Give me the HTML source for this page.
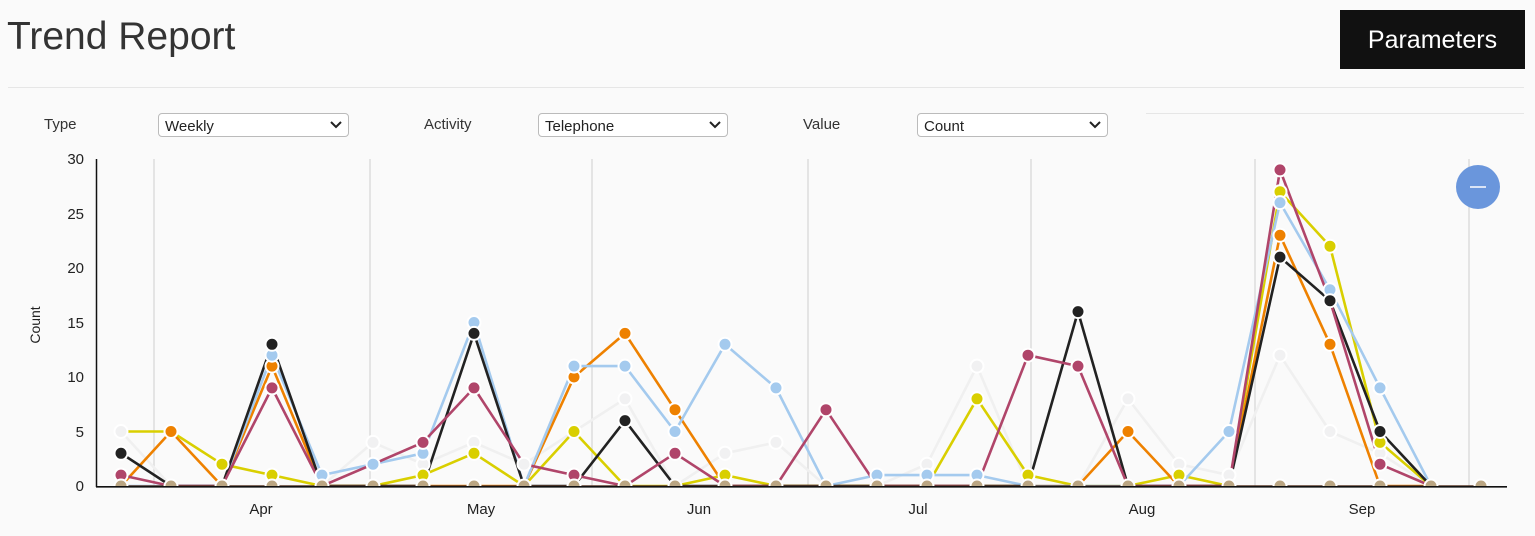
<!DOCTYPE html>
<html><head><meta charset="utf-8"><style>
html,body{margin:0;padding:0;background:#fafafa;width:1535px;height:536px;overflow:hidden;font-family:"Liberation Sans",sans-serif;color:#222}
.title{position:absolute;left:7px;top:15px;font-size:39px;color:#333;letter-spacing:0px}
.btn{position:absolute;left:1340px;top:10px;width:185px;height:59px;background:#111;color:#fff;font-size:25px;line-height:60px;text-align:center}
.hr1{position:absolute;left:8px;top:87px;width:1516px;height:1px;background:#e6e6e6}
.hr2{position:absolute;left:1146px;top:113px;width:378px;height:1px;background:#e6e6e6}
.lbl{position:absolute;top:116px;font-size:15px;color:#333}
.sel{position:absolute;top:113px;height:22px;border:1px solid #bbb;border-radius:4px;background:#fff;font-size:15px;line-height:25px;padding-left:6px;box-sizing:content-box;color:#222}
.sel svg{position:absolute;right:6px;top:7px}
</style></head><body>
<div class="title">Trend Report</div>
<div class="btn">Parameters</div>
<div class="hr1"></div>
<div class="hr2"></div>
<div class="lbl" style="left:44px">Type</div>
<div class="sel" style="left:158px;width:183px">Weekly<svg width="12" height="8"><path d="M1 1 L6 6 L11 1" fill="none" stroke="#222" stroke-width="2"/></svg></div>
<div class="lbl" style="left:424px">Activity</div>
<div class="sel" style="left:538px;width:182px">Telephone<svg width="12" height="8"><path d="M1 1 L6 6 L11 1" fill="none" stroke="#222" stroke-width="2"/></svg></div>
<div class="lbl" style="left:803px">Value</div>
<div class="sel" style="left:917px;width:183px">Count<svg width="12" height="8"><path d="M1 1 L6 6 L11 1" fill="none" stroke="#222" stroke-width="2"/></svg></div>

<svg width="1535" height="536" style="position:absolute;left:0;top:0" xmlns="http://www.w3.org/2000/svg">
<defs><clipPath id="c"><rect x="96" y="140" width="1420" height="346.5"/></clipPath></defs>
<g stroke="#dcdcdc" stroke-width="1.5">
<line x1="154" y1="159" x2="154" y2="486"/><line x1="370" y1="159" x2="370" y2="486"/><line x1="592" y1="159" x2="592" y2="486"/><line x1="808" y1="159" x2="808" y2="486"/><line x1="1031" y1="159" x2="1031" y2="486"/><line x1="1255" y1="159" x2="1255" y2="486"/><line x1="1469" y1="159" x2="1469" y2="486"/>
</g>
<g font-family="Liberation Sans, sans-serif" font-size="15" fill="#222" text-anchor="end">
<text x="84" y="164">30</text><text x="84" y="219">25</text><text x="84" y="273">20</text><text x="84" y="328">15</text><text x="84" y="382">10</text><text x="84" y="437">5</text><text x="84" y="491">0</text>
</g>
<text transform="translate(40,325) rotate(-90)" text-anchor="middle" font-family="Liberation Sans, sans-serif" font-size="14" fill="#222">Count</text>
<g font-family="Liberation Sans, sans-serif" font-size="15" fill="#222" text-anchor="middle">
<text x="261" y="514">Apr</text><text x="481" y="514">May</text><text x="699" y="514">Jun</text><text x="918" y="514">Jul</text><text x="1142" y="514">Aug</text><text x="1362" y="514">Sep</text>
</g>
<g clip-path="url(#c)" fill="none" stroke-width="2.6" stroke-linejoin="round">
<polyline stroke="#f0f0f0" points="121,431.5 171,486 222,486 272,486 322,486 373,442.4 423,464.2 474,442.4 524,464.2 574,431.5 625,398.8 675,486 725,453.3 776,442.4 826,486 877,486 927,464.2 977,366.1 1028,486 1078,486 1128,398.8 1179,464.2 1229,475.1 1280,355.2 1330,431.5 1380,453.3 1431,486"/>
<polyline stroke="#d9cf00" points="121,431.5 171,431.5 222,464.2 272,475.1 322,486 373,486 423,475.1 474,453.3 524,486 574,431.5 625,486 675,486 725,475.1 776,486 826,486 877,486 927,486 977,398.8 1028,475.1 1078,486 1128,486 1179,475.1 1229,486 1280,191.7 1330,246.2 1380,442.4 1431,486"/>
<polyline stroke="#ee8100" points="121,486 171,431.5 222,486 272,366.1 322,486 373,486 423,486 474,486 524,486 574,377 625,333.4 675,409.7 725,486 776,486 826,486 877,486 927,486 977,486 1028,486 1078,486 1128,431.5 1179,486 1229,486 1280,235.3 1330,344.3 1380,486 1431,486"/>
<polyline stroke="#a4caee" points="121,486 171,486 222,486 272,355.2 322,475.1 373,464.2 423,453.3 474,322.5 524,486 574,366.1 625,366.1 675,431.5 725,344.3 776,387.9 826,486 877,475.1 927,475.1 977,475.1 1028,486 1078,486 1128,486 1179,486 1229,431.5 1280,202.6 1330,289.8 1380,387.9 1431,486"/>
<polyline stroke="#222222" points="121,453.3 171,486 222,486 272,344.3 322,486 373,486 423,486 474,333.4 524,486 574,486 625,420.6 675,486 725,486 776,486 826,486 877,486 927,486 977,486 1028,486 1078,311.6 1128,486 1179,486 1229,486 1280,257.1 1330,300.7 1380,431.5 1431,486"/>
<polyline stroke="#b0456a" points="121,475.1 171,486 222,486 272,387.9 322,486 373,464.2 423,442.4 474,387.9 524,464.2 574,475.1 625,486 675,453.3 725,486 776,486 826,409.7 877,486 927,486 977,486 1028,355.2 1078,366.1 1128,486 1179,486 1229,486 1280,169.9 1330,300.7 1380,464.2 1431,486"/>
<polyline stroke="#5a3a2a" stroke-width="1.5" points="121,486 1481,486"/>
</g>
<g clip-path="url(#c)" stroke="#fff" stroke-width="2">
<g fill="#f1f1f2">
<circle cx="121" cy="431.5" r="6.5"/><circle cx="373" cy="442.4" r="6.5"/><circle cx="423" cy="464.2" r="6.5"/><circle cx="474" cy="442.4" r="6.5"/><circle cx="524" cy="464.2" r="6.5"/><circle cx="574" cy="431.5" r="6.5"/><circle cx="625" cy="398.8" r="6.5"/><circle cx="725" cy="453.3" r="6.5"/><circle cx="776" cy="442.4" r="6.5"/><circle cx="927" cy="464.2" r="6.5"/><circle cx="977" cy="366.1" r="6.5"/><circle cx="1128" cy="398.8" r="6.5"/><circle cx="1179" cy="464.2" r="6.5"/><circle cx="1229" cy="475.1" r="6.5"/><circle cx="1280" cy="355.2" r="6.5"/><circle cx="1330" cy="431.5" r="6.5"/><circle cx="1380" cy="453.3" r="6.5"/>
</g>
<g fill="#d9cf00">
<circle cx="171" cy="431.5" r="6.5"/><circle cx="222" cy="464.2" r="6.5"/><circle cx="272" cy="475.1" r="6.5"/><circle cx="423" cy="475.1" r="6.5"/><circle cx="474" cy="453.3" r="6.5"/><circle cx="574" cy="431.5" r="6.5"/><circle cx="725" cy="475.1" r="6.5"/><circle cx="977" cy="398.8" r="6.5"/><circle cx="1028" cy="475.1" r="6.5"/><circle cx="1179" cy="475.1" r="6.5"/><circle cx="1280" cy="191.7" r="6.5"/><circle cx="1330" cy="246.2" r="6.5"/><circle cx="1380" cy="442.4" r="6.5"/>
</g>
<g fill="#ee8100">
<circle cx="171" cy="431.5" r="6.5"/><circle cx="272" cy="366.1" r="6.5"/><circle cx="574" cy="377" r="6.5"/><circle cx="625" cy="333.4" r="6.5"/><circle cx="675" cy="409.7" r="6.5"/><circle cx="1128" cy="431.5" r="6.5"/><circle cx="1280" cy="235.3" r="6.5"/><circle cx="1330" cy="344.3" r="6.5"/>
</g>
<g fill="#a4caee">
<circle cx="272" cy="355.2" r="6.5"/><circle cx="322" cy="475.1" r="6.5"/><circle cx="373" cy="464.2" r="6.5"/><circle cx="423" cy="453.3" r="6.5"/><circle cx="474" cy="322.5" r="6.5"/><circle cx="574" cy="366.1" r="6.5"/><circle cx="625" cy="366.1" r="6.5"/><circle cx="675" cy="431.5" r="6.5"/><circle cx="725" cy="344.3" r="6.5"/><circle cx="776" cy="387.9" r="6.5"/><circle cx="877" cy="475.1" r="6.5"/><circle cx="927" cy="475.1" r="6.5"/><circle cx="977" cy="475.1" r="6.5"/><circle cx="1229" cy="431.5" r="6.5"/><circle cx="1280" cy="202.6" r="6.5"/><circle cx="1330" cy="289.8" r="6.5"/><circle cx="1380" cy="387.9" r="6.5"/>
</g>
<g fill="#222222">
<circle cx="121" cy="453.3" r="6.5"/><circle cx="272" cy="344.3" r="6.5"/><circle cx="474" cy="333.4" r="6.5"/><circle cx="625" cy="420.6" r="6.5"/><circle cx="1078" cy="311.6" r="6.5"/><circle cx="1280" cy="257.1" r="6.5"/><circle cx="1330" cy="300.7" r="6.5"/><circle cx="1380" cy="431.5" r="6.5"/>
</g>
<g fill="#b0456a">
<circle cx="121" cy="475.1" r="6.5"/><circle cx="272" cy="387.9" r="6.5"/><circle cx="423" cy="442.4" r="6.5"/><circle cx="474" cy="387.9" r="6.5"/><circle cx="574" cy="475.1" r="6.5"/><circle cx="675" cy="453.3" r="6.5"/><circle cx="826" cy="409.7" r="6.5"/><circle cx="1028" cy="355.2" r="6.5"/><circle cx="1078" cy="366.1" r="6.5"/><circle cx="1280" cy="169.9" r="6.5"/><circle cx="1380" cy="464.2" r="6.5"/>
</g>
<g fill="#baa582">
<circle cx="121" cy="486" r="6.5"/><circle cx="171" cy="486" r="6.5"/><circle cx="222" cy="486" r="6.5"/><circle cx="272" cy="486" r="6.5"/><circle cx="322" cy="486" r="6.5"/><circle cx="373" cy="486" r="6.5"/><circle cx="423" cy="486" r="6.5"/><circle cx="474" cy="486" r="6.5"/><circle cx="524" cy="486" r="6.5"/><circle cx="574" cy="486" r="6.5"/><circle cx="625" cy="486" r="6.5"/><circle cx="675" cy="486" r="6.5"/><circle cx="725" cy="486" r="6.5"/><circle cx="776" cy="486" r="6.5"/><circle cx="826" cy="486" r="6.5"/><circle cx="877" cy="486" r="6.5"/><circle cx="927" cy="486" r="6.5"/><circle cx="977" cy="486" r="6.5"/><circle cx="1028" cy="486" r="6.5"/><circle cx="1078" cy="486" r="6.5"/><circle cx="1128" cy="486" r="6.5"/><circle cx="1179" cy="486" r="6.5"/><circle cx="1229" cy="486" r="6.5"/><circle cx="1280" cy="486" r="6.5"/><circle cx="1330" cy="486" r="6.5"/><circle cx="1380" cy="486" r="6.5"/><circle cx="1431" cy="486" r="6.5"/><circle cx="1481" cy="486" r="6.5"/>
</g>
</g>
<line x1="96.5" y1="159" x2="96.5" y2="487" stroke="#111" stroke-width="1.5"/>
<line x1="96" y1="486.8" x2="1507" y2="486.8" stroke="#111" stroke-width="1.6"/>
<circle cx="1478" cy="187" r="22" fill="#6a96dc"/>
<line x1="1470" y1="187" x2="1486" y2="187" stroke="#fff" stroke-width="1.5"/>
</svg>
</body></html>
